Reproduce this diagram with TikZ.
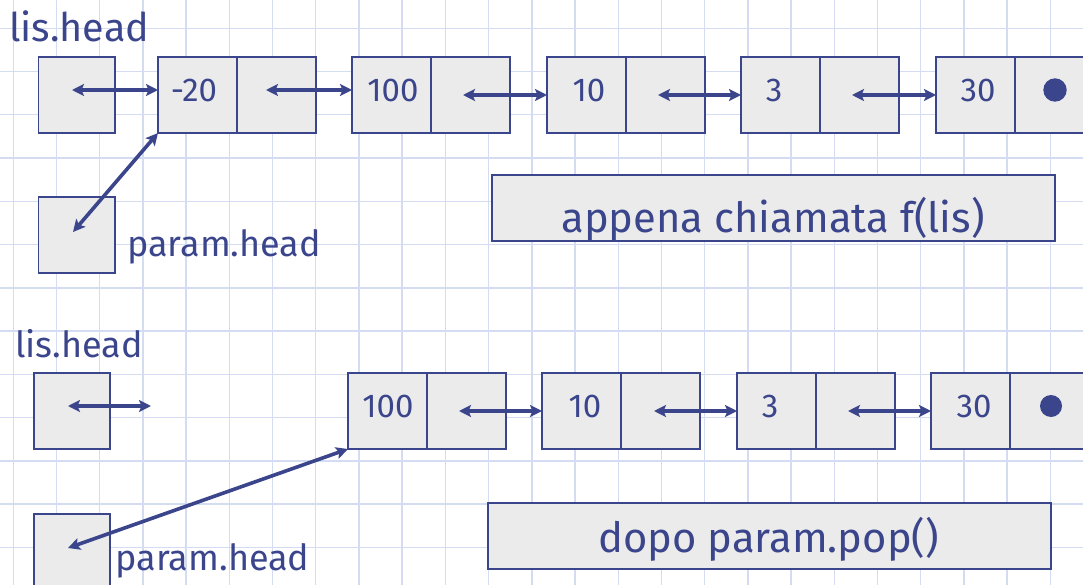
\documentclass[tikz,border=0pt]{standalone}
\usepackage{fontspec}
\setmainfont{Fira Sans}
\usetikzlibrary{arrows.meta}
\definecolor{ink}{HTML}{3B458C}
\definecolor{cellfill}{HTML}{EBEBEB}
\definecolor{gridblue}{HTML}{D3DCF0}
\begin{document}
\begin{tikzpicture}[x=1pt,y=-1pt,
  gridline/.style={gridblue, line width=1.4pt},
  cell/.style={draw=ink, fill=cellfill, line width=1.9pt, inner sep=0pt, outer sep=0pt,
    minimum width=79pt, minimum height=76pt},
  headbox/.style={cell, minimum width=76.5pt},
  caption/.style={draw=ink, fill=cellfill, line width=1.9pt, inner sep=0pt, outer sep=0pt,
    minimum height=66pt},
  ptr/.style={ink, line width=3.6pt,
    {Stealth[length=12pt,width=12pt,inset=2.5pt]}-{Stealth[length=12pt,width=12pt,inset=2.5pt]}},
  label/.style={text=ink, font=\fontsize{36}{40}\selectfont, inner sep=0pt, anchor=base west},
  biglabel/.style={label, font=\fontsize{39.5}{44}\selectfont},
  val/.style={text=ink, font=\fontsize{33}{36}\selectfont, inner sep=0pt, anchor=base},
  captext/.style={text=ink, font=\fontsize{41.7}{46}\selectfont, inner sep=0pt, anchor=base},
  nil/.style={fill=ink, draw=none}]
\useasboundingbox (0,0) rectangle (1083,585);
\clip (0,0) rectangle (1083,585);

% squared paper
\foreach \k in {0,...,24} \draw[gridline] (13.3+\k*43.21,0) -- ++(0,585);
\foreach \k in {0,...,12} \draw[gridline] (0,28.3+\k*43.25) -- ++(1083,0);

% ---------- state right after the call f(lis) ----------
\node[biglabel] (lisA) at (9,41.7) {lis.head};
\node[headbox] (hA) at (76.75,95) {};
\node[headbox] (pA) at (76.75,235) {};
\node[label] (parA) at (127,256.7) {param.head};

\node[cell] (a1d) at (197.5,95) {};  \node[cell] (a1n) at (276.5,95) {};
\node[cell] (a2d) at (391.5,95) {};  \node[cell] (a2n) at (470.5,95) {};
\node[cell] (a3d) at (586.5,95) {};  \node[cell] (a3n) at (665.5,95) {};
\node[cell] (a4d) at (780.5,95) {};  \node[cell] (a4n) at (859.5,95) {};
\node[cell] (a5d) at (975.5,95) {};  \node[cell] (a5n) at (1054.5,95) {};

\node[val] (v1) at (194,101.7) {-20};
\node[val] (v2) at (393,101.7) {100};
\node[val] (v3) at (589,101.7) {10};
\node[val] (v4) at (774,101.7) {3};
\node[val] (v5) at (978,101.7) {30};
\fill[nil] (1055,90) circle (11.7pt);

\coordinate (sA0) at (72,90);
\coordinate (sA1) at (266,90);
\coordinate (sA2) at (463,95);
\coordinate (sA3) at (658,95);
\coordinate (sA4) at (852,95);
\coordinate (sAp) at (73,232);
\draw[ptr] (sA0) -- (sA0 -| a1d.west);
\draw[ptr] (sA1) -- (sA1 -| a2d.west);
\draw[ptr] (sA2) -- (sA2 -| a3d.west);
\draw[ptr] (sA3) -- (sA3 -| a4d.west);
\draw[ptr] (sA4) -- (sA4 -| a5d.west);
\draw[ptr] (sAp) -- (a1d.south west);

\node[caption, minimum width=563pt] (capA) at (773.5,208) {};
\node[captext] (capAt) at (773,233) {appena chiamata f(lis)};

% ---------- state after param.pop() ----------
\node[label] (lisB) at (15,357.3) {lis.head};
\node[headbox] (hB) at (72,411) {};
\node[headbox] (pB) at (72,552) {};
\node[label] (parB) at (115.5,570) {param.head};

\node[cell] (b2d) at (387.5,411) {};  \node[cell] (b2n) at (466.5,411) {};
\node[cell] (b3d) at (581.5,411) {};  \node[cell] (b3n) at (660.5,411) {};
\node[cell] (b4d) at (776.5,411) {};  \node[cell] (b4n) at (855.5,411) {};
\node[cell] (b5d) at (970.5,411) {};  \node[cell] (b5n) at (1049.5,411) {};

\node[val] (w2) at (388,417) {100};
\node[val] (w3) at (585,417) {10};
\node[val] (w4) at (770,417) {3};
\node[val] (w5) at (974,417) {30};
\fill[nil] (1051,406) circle (11pt);

\coordinate (sB0) at (68,406);
\coordinate (eB0) at (151,406);
\coordinate (sB2) at (459,411);
\coordinate (sB3) at (654,411);
\coordinate (sB4) at (848,411);
\coordinate (sBp) at (68,548);
\draw[ptr] (sB0) -- (eB0);
\draw[ptr] (sB2) -- (sB2 -| b3d.west);
\draw[ptr] (sB3) -- (sB3 -| b4d.west);
\draw[ptr] (sB4) -- (sB4 -| b5d.west);
\draw[ptr] (sBp) -- (b2d.south west);

\node[caption, minimum width=563pt] (capB) at (769.5,536) {};
\node[captext] (capBt) at (768.5,552.7) {dopo param.pop()};
\end{tikzpicture}
\end{document}
